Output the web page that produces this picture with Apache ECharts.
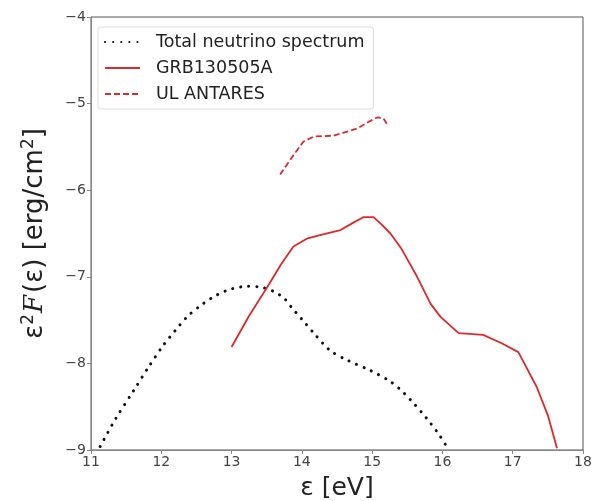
<!DOCTYPE html>
<html><head><meta charset="utf-8">
<script src="https://cdn.jsdelivr.net/npm/echarts@6/dist/echarts.min.js"></script>
<style>html,body{margin:0;padding:0;background:#fff}#c{width:595px;height:501px}</style>
</head><body><div id="c"></div>
<script>
const xTicks = [11, 12, 13, 14, 15, 16, 17, 18];
const yTicks = [-9, -8, -7, -6, -5, -4];
const seriesNames = ['Total neutrino spectrum', 'GRB130505A', 'UL ANTARES'];
const totalSpectrum = [[11.13,-8.96],[11.35,-8.64],[11.61,-8.31],[11.82,-8.04],[12.03,-7.79],[12.2,-7.62],[12.37,-7.46],[12.58,-7.32],[12.79,-7.21],[13.0,-7.14],[13.22,-7.11],[13.42,-7.12],[13.6,-7.17],[13.75,-7.25],[13.86,-7.36],[14.0,-7.49],[14.17,-7.65],[14.4,-7.85],[14.64,-7.96],[14.97,-8.08],[15.26,-8.21],[15.45,-8.34],[15.59,-8.46],[15.72,-8.58],[15.83,-8.69],[15.95,-8.82],[16.06,-8.96]];
const grb = [[13.0,-7.81],[13.25,-7.45],[13.5,-7.13],[13.7,-6.86],[13.88,-6.65],[14.07,-6.56],[14.3,-6.51],[14.55,-6.46],[14.72,-6.38],[14.88,-6.31],[15.02,-6.31],[15.14,-6.4],[15.26,-6.5],[15.42,-6.68],[15.64,-7.0],[15.83,-7.31],[15.97,-7.46],[16.23,-7.65],[16.58,-7.67],[16.85,-7.77],[17.08,-7.87],[17.34,-8.27],[17.5,-8.6],[17.63,-8.98]];
const ulAntares = [[13.69,-5.82],[13.85,-5.63],[14.02,-5.44],[14.17,-5.38],[14.45,-5.37],[14.62,-5.33],[14.78,-5.29],[14.95,-5.21],[15.07,-5.16],[15.16,-5.17],[15.23,-5.26]];

const chart = echarts.init(document.getElementById('c'));
const red = '#dc2a2a';
const axisCommon = {
  axisLine: {show: true, lineStyle: {color: '#888', width: 1}},
  axisTick: {show: true, length: 4, lineStyle: {color: '#888'}},
  splitLine: {show: false},
  axisLabel: {color: '#444', fontSize: 14, fontFamily: 'DejaVu Sans', margin: 5}
};
chart.setOption({
  animation: false,
  backgroundColor: '#fff',
  grid: {left: 91, top: 17, width: 492, height: 433, show: true, borderColor: '#555', borderWidth: 1,
         containLabel: false, outerBoundsMode: 'none'},
  legend: {
    orient: 'vertical', left: 98, top: 27, data: seriesNames,
    itemWidth: 35, itemHeight: 12, itemGap: 8,
    itemStyle: {opacity: 0},
    borderColor: '#ddd', borderWidth: 1, borderRadius: 3,
    padding: [6, 9, 6, 6],
    textStyle: {fontSize: 17.5, color: '#222', fontFamily: 'DejaVu Sans', padding: [0, 0, 0, 11]}
  },
  xAxis: Object.assign({}, axisCommon, {
    type: 'value', min: xTicks[0], max: xTicks[xTicks.length-1], interval: 1,
    name: 'ε [eV]', nameLocation: 'middle', nameGap: 26,
    nameTextStyle: {fontSize: 25, color: '#222', fontFamily: 'DejaVu Sans'}
  }),
  yAxis: Object.assign({}, axisCommon, {
    type: 'value', min: yTicks[0], max: yTicks[yTicks.length-1], interval: 1,
    axisLabel: Object.assign({}, axisCommon.axisLabel, {formatter: v => String(v).replace('-', '\u2212')}),
    name: '{a|ε}{s|2}{f|F}{a|(ε) [erg/cm}{s|2}{a|]}', nameLocation: 'middle', nameGap: 41, nameRotate: 90,
    nameTextStyle: {fontSize: 26, color: '#222', fontFamily: 'DejaVu Sans',
      rich: {
        a: {fontSize: 26, color: '#222', fontFamily: 'DejaVu Sans'},
        s: {fontSize: 17, color: '#222', fontFamily: 'DejaVu Sans', padding: [0, 0, 13, 0]},
        f: {fontSize: 26, color: '#222', fontFamily: 'DejaVu Serif', fontStyle: 'italic', padding: [0, 2, 0, 1]}
      }}
  }),
  series: [
    {name: seriesNames[0], type: 'line', data: totalSpectrum, symbol: 'none', smooth: 0.3,
     lineStyle: {color: '#111', width: 3, type: [0.1, 8], cap: 'round'}, itemStyle: {color: '#111'}},
    {name: seriesNames[1], type: 'line', data: grb, symbol: 'none',
     lineStyle: {color: red, width: 1.8}, itemStyle: {color: red}},
    {name: seriesNames[2], type: 'line', data: ulAntares, symbol: 'none',
     lineStyle: {color: red, width: 1.8, type: [6, 3]}, itemStyle: {color: red}}
  ]
});
</script></body></html>
